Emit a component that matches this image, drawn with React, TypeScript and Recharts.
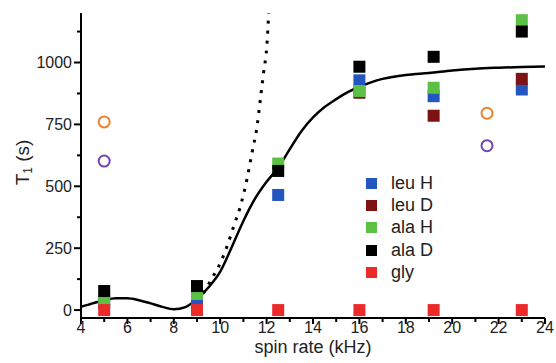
import {
  ComposedChart, Line, Scatter, XAxis, YAxis, Legend, Label
} from 'recharts';

const spinRates = [5, 9, 12.5, 16, 19.2, 23];
const leuH = [28, 38, 465, 928, 864, 891];
const leuD = [null, null, null, 878, 785, 934];
const alaH = [45, 65, 592, 885, 898, 1171];
const alaD = [77, 97, 562, 983, 1023, 1125];
const gly = [0, 0, 0, 0, 0, 0];

const circleRates = [5, 21.5];
const orangeT1 = [760, 795];
const purpleT1 = [602, 664];

const fitX = [4, 4.5, 5, 5.5, 6, 6.5, 7, 7.5, 8, 8.5, 9, 9.5, 10, 10.5, 11, 11.5, 12, 12.5, 13, 13.5, 14, 14.5, 15, 15.5, 16, 16.5, 17, 18, 19, 20, 21, 22, 23, 24];
const fitY = [13, 27, 40, 48, 48, 40, 27, 13, 3, 12, 45, 92, 155, 255, 360, 450, 518, 575, 650, 722, 778, 820, 852, 880, 902, 920, 934, 950, 958, 968, 975, 979, 982, 984];

const dotX = [9.28, 9.64, 9.93, 10.29, 10.58, 10.87, 11.15, 11.37, 11.59, 11.73, 11.87, 12.02, 12.09];
const dotY = [68, 128, 175, 256, 338, 419, 527, 635, 743, 851, 959, 1080, 1200];

const xTicks = [4, 5, 6, 7, 8, 9, 10, 11, 12, 13, 14, 15, 16, 17, 18, 19, 20, 21, 22, 23, 24];
const yTicks = [0, 125, 250, 375, 500, 625, 750, 875, 1000, 1125];

const FONT = '"Liberation Sans", Arial, sans-serif';

const toPoints = (xs: number[], ys: (number | null)[]) =>
  xs.map((x, i) => ({ x, y: ys[i] })).filter((p) => p.y !== null);

const squares = [
  { name: 'leu H', color: '#2456c0', values: leuH },
  { name: 'leu D', color: '#7c1414', values: leuD },
  { name: 'ala H', color: '#5cc044', values: alaH },
  { name: 'ala D', color: '#000000', values: alaD },
  { name: 'gly', color: '#ec2a2a', values: gly },
];

const Square = (props: any) => (
  <rect x={props.cx - 6} y={props.cy - 6} width={12} height={12} fill={props.fill} />
);

const Ring = (color: string) => (props: any) => (
  <circle cx={props.cx} cy={props.cy} r={5.5} fill="none" stroke={color} strokeWidth={2} />
);

const YTick = (props: any) => {
  const { x, y, payload } = props;
  const major = payload.value % 250 === 0;
  return (
    <g>
      <line x1={x} x2={x - (major ? 7 : 4)} y1={y} y2={y} stroke="#000" strokeWidth={2} />
      {major && (
        <text x={x - 9} y={y} textAnchor="end" dominantBaseline="central"
          fontSize={16} fontFamily={FONT} fill="#222">
          {payload.value}
        </text>
      )}
    </g>
  );
};

const XTick = (props: any) => {
  const { x, y, payload } = props;
  const major = payload.value % 2 === 0;
  return (
    <g>
      <line x1={x} x2={x} y1={y} y2={y + (major ? 6 : 4)} stroke="#000" strokeWidth={2} />
      {major && (
        <text x={x} y={y + 15} textAnchor="middle" fontSize={16} fontFamily={FONT} fill="#222">
          {payload.value}
        </text>
      )}
    </g>
  );
};

// legend only lists the square series, in their own order
const LegendBox = () => (
  <div style={{ fontFamily: FONT, fontSize: 18, color: '#222' }}>
    {squares.map((s) => (
      <div key={s.name} style={{ display: 'flex', alignItems: 'center', height: 22.3 }}>
        <span style={{ width: 11, height: 11, background: s.color, marginRight: 14 }} />
        <span>{s.name}</span>
      </div>
    ))}
  </div>
);

export default function App() {
  return (
    <div style={{ position: 'absolute', left: 0, top: 0, background: '#fff' }}>
      <ComposedChart width={556} height={363} margin={{ top: 13, right: 11, left: 11, bottom: 0 }}>
        <XAxis
          type="number"
          dataKey="x"
          domain={[4, 24]}
          ticks={xTicks}
          interval={0}
          allowDataOverflow
          height={45}
          tickSize={0}
          tickMargin={0}
          tickLine={false}
          tick={<XTick />}
          axisLine={{ stroke: '#000', strokeWidth: 2 }}
        >
          <Label
            content={(p: any) => (
              <text x={p.viewBox.x + p.viewBox.width / 2} y={p.viewBox.y + 35}
                textAnchor="middle" fontSize={18} fontFamily={FONT} fill="#222">
                spin rate (kHz)
              </text>
            )}
          />
        </XAxis>
        <YAxis
          type="number"
          dataKey="y"
          domain={[-32, 1200]}
          ticks={yTicks}
          interval={0}
          allowDataOverflow
          width={70}
          tickSize={0}
          tickMargin={0}
          tickLine={false}
          tick={<YTick />}
          axisLine={{ stroke: '#000', strokeWidth: 2 }}
        >
          <Label
            content={(p: any) => {
              const cx = p.viewBox.x + 11;
              const cy = p.viewBox.y + p.viewBox.height / 2 - 3;
              return (
                <text x={cx} y={cy} transform={`rotate(-90, ${cx}, ${cy})`} textAnchor="middle"
                  dominantBaseline="central" fontSize={19} fontFamily={FONT} fill="#222">
                  T<tspan dy={6} fontSize={12}>1</tspan><tspan dy={-6}> (s)</tspan>
                </text>
              );
            }}
          />
        </YAxis>
        <Legend
          layout="vertical"
          align="center"
          verticalAlign="middle"
          wrapperStyle={{ left: 366, top: 172, width: 'auto' }}
          content={<LegendBox />}
        />
        <Line
          data={toPoints(dotX, dotY)}
          dataKey="y"
          type="monotone"
          stroke="#000"
          strokeWidth={3}
          strokeDasharray="3 7"
          dot={false}
          legendType="none"
          isAnimationActive={false}
        />
        <Line
          data={toPoints(fitX, fitY)}
          dataKey="y"
          type="monotone"
          stroke="#000"
          strokeWidth={2.5}
          dot={false}
          legendType="none"
          isAnimationActive={false}
        />
        <Scatter data={toPoints(circleRates, orangeT1)} dataKey="y" legendType="none"
          shape={Ring('#f07f2c')} isAnimationActive={false} />
        <Scatter data={toPoints(circleRates, purpleT1)} dataKey="y" legendType="none"
          shape={Ring('#7344b4')} isAnimationActive={false} />
        {squares.map((s) => (
          <Scatter
            key={s.name}
            name={s.name}
            data={toPoints(spinRates, s.values)}
            dataKey="y"
            fill={s.color}
            legendType="square"
            shape={<Square />}
            isAnimationActive={false}
          />
        ))}
      </ComposedChart>
    </div>
  );
}
